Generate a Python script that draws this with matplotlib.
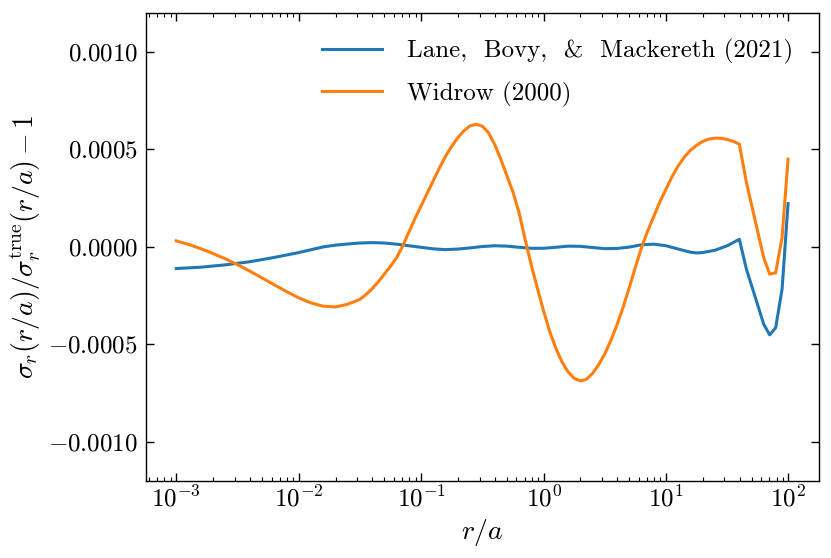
import numpy as np
import matplotlib
matplotlib.use("Agg")
import matplotlib.pyplot as plt
from matplotlib.ticker import FuncFormatter, LogLocator, NullLocator

# log10(r/a) positions and fractional dispersion errors (units of 1e-4)
logr_lane = [-3.0, -2.8, -2.6, -2.4, -2.2, -2.0, -1.8, -1.7, -1.6, -1.5,
             -1.4, -1.3, -1.2, -1.1, -1.0, -0.9, -0.8, -0.7, -0.6, -0.5,
             -0.4, -0.3, -0.2, -0.1, 0.0, 0.1, 0.2, 0.3, 0.4, 0.5,
             0.6, 0.7, 0.8, 0.9, 1.0, 1.1, 1.2, 1.25, 1.3, 1.4,
             1.5, 1.599, 1.657, 1.798, 1.847, 1.896, 1.948, 1.997]
dsig_lane = [-1.12, -1.05, -0.93, -0.77, -0.55, -0.30, -0.01, 0.08, 0.14, 0.19,
             0.21, 0.19, 0.13, 0.05, -0.03, -0.11, -0.15, -0.12, -0.06, 0.01,
             0.05, 0.03, -0.03, -0.08, -0.08, -0.03, 0.03, 0.02, -0.04, -0.10,
             -0.09, -0.02, 0.10, 0.13, 0.05, -0.12, -0.28, -0.32, -0.30, -0.18,
             0.05, 0.38, -1.15, -3.97, -4.52, -4.15, -2.18, 2.21]

logr_widrow = [-3.0, -2.9, -2.8, -2.7, -2.6, -2.5, -2.4, -2.3, -2.2, -2.1,
               -2.0, -1.9, -1.8, -1.7, -1.6, -1.5, -1.45, -1.4, -1.35, -1.3,
               -1.25, -1.2, -1.15, -1.1, -1.05, -1.0, -0.95, -0.9, -0.85, -0.8,
               -0.75, -0.7, -0.65, -0.6, -0.55, -0.5, -0.45, -0.4, -0.35, -0.3,
               -0.25, -0.2, -0.15, -0.1, -0.05, 0.0, 0.05, 0.1, 0.15, 0.2,
               0.25, 0.3, 0.35, 0.4, 0.45, 0.5, 0.55, 0.6, 0.65, 0.7,
               0.75, 0.8, 0.85, 0.9, 0.95, 1.0, 1.05, 1.1, 1.15, 1.2,
               1.25, 1.3, 1.35, 1.4, 1.45, 1.5, 1.55, 1.599, 1.657, 1.798,
               1.847, 1.896, 1.948, 1.997]
dsig_widrow = [0.30, 0.12, -0.10, -0.35, -0.62, -0.92, -1.25, -1.60, -1.95, -2.30,
               -2.62, -2.88, -3.05, -3.09, -2.95, -2.70, -2.45, -2.15, -1.80, -1.40,
               -1.00, -0.56, 0.05, 0.75, 1.45, 2.10, 2.75, 3.40, 4.05, 4.65,
               5.15, 5.60, 5.95, 6.20, 6.28, 6.18, 5.85, 5.25, 4.50, 3.65,
               2.80, 1.75, 0.35, -0.95, -2.15, -3.29, -4.35, -5.20, -5.90, -6.42,
               -6.75, -6.88, -6.80, -6.50, -6.05, -5.50, -4.80, -4.00, -3.10, -2.10,
               -1.05, -0.05, 0.80, 1.55, 2.30, 2.95, 3.60, 4.15, 4.60, 4.95,
               5.20, 5.40, 5.52, 5.57, 5.56, 5.50, 5.40, 5.26, 3.29, -0.56,
               -1.41, -1.33, 0.47, 4.49]

labels = ['Lane,  Bovy,  &  Mackereth (2021)', 'Widrow (2000)']

plt.rcParams['mathtext.fontset'] = 'cm'
plt.rcParams['font.family'] = 'serif'
plt.rcParams['font.serif'] = ['cmr10', 'DejaVu Serif']
plt.rcParams['axes.formatter.use_mathtext'] = True
plt.rcParams['font.size'] = 18

fig = plt.figure(figsize=(8.31, 5.58), dpi=100)
ax = fig.add_axes([0.1753, 0.1385, 0.8103, 0.8387])

ax.plot(10 ** np.array(logr_lane), np.array(dsig_lane) * 1e-4,
        color='#1f77b4', lw=2.2, label=labels[0])
ax.plot(10 ** np.array(logr_widrow), np.array(dsig_widrow) * 1e-4,
        color='#ff7f0e', lw=2.2, label=labels[1])

ax.set_xscale('log')
ax.set_xlim(10 ** -3.25, 10 ** 2.25)
ax.set_ylim(-0.0012, 0.0012)
ax.set_yticks([-0.001, -0.0005, 0.0, 0.0005, 0.001])
ax.yaxis.set_major_formatter(FuncFormatter(lambda v, p: r'$%.4f$' % (v + 0.0)))
ax.yaxis.set_minor_locator(NullLocator())
ax.xaxis.set_major_locator(LogLocator(base=10, numticks=20))
ax.xaxis.set_major_formatter(FuncFormatter(lambda v, p: r'$10^{%d}$' % round(np.log10(v))))

ax.tick_params(which='both', direction='in', top=True, right=True, labelsize=18)
ax.tick_params(which='major', length=6, width=1)
ax.tick_params(which='minor', length=3, width=0.8)
ax.tick_params(axis='y', which='major', pad=5.5)
for s in ax.spines.values():
    s.set_linewidth(1.0)

ax.set_xlabel(r'$r/a$', fontsize=20)
ax.set_ylabel(r'$\sigma_r(r/a)/\sigma_r^{\rm true}(r/a)-1$', fontsize=20)

ax.legend(loc='upper right', frameon=False, fontsize=18, handlelength=2.4,
          handletextpad=1.0, borderaxespad=0.65, labelspacing=0.7)

fig.savefig('out.png', dpi=100)
